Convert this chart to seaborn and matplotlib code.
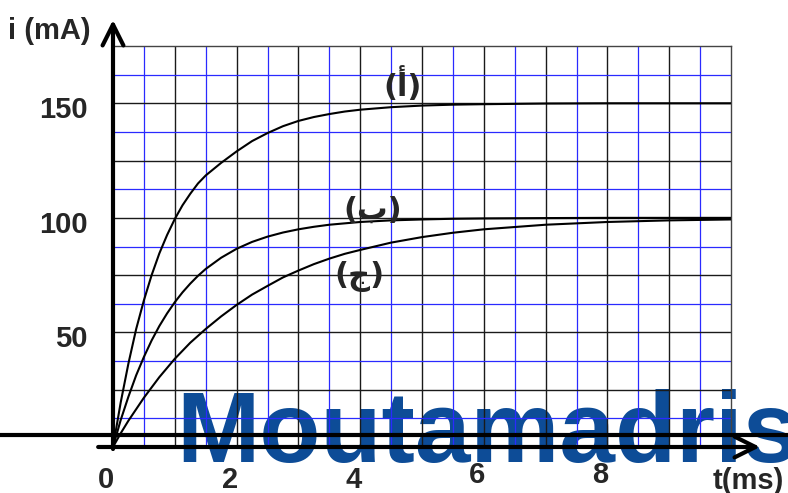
import numpy as np
import pandas as pd
import matplotlib.pyplot as plt
import seaborn as sns
from matplotlib.lines import Line2D
from matplotlib.transforms import ScaledTranslation

# valeurs : t en ms, i en mA
t_ms = [0, 0.125, 0.25, 0.375, 0.5, 0.625, 0.75, 0.875, 1, 1.125, 1.25, 1.375, 1.5,
        1.75, 2, 2.25, 2.5, 2.75, 3, 3.25, 3.5, 3.75, 4, 4.5, 5, 5.5, 6, 7, 8, 9, 10]
i_a = [0, 19.5, 36.5, 51.5, 64, 75, 84.5, 92.5, 99.5, 105.5, 110.5, 115, 118.5,
       124, 129, 133.5, 137, 140, 142.3, 144, 145.3, 146.4, 147.2, 148.3, 149, 149.4, 149.6, 149.9, 150, 150, 150]
i_b = [0, 11.8, 22, 31.3, 39.3, 46.5, 52.8, 58.3, 63.2, 67.5, 71.3, 74.7, 77.7,
       82.6, 86.5, 89.5, 91.8, 93.6, 95, 96.1, 97, 97.6, 98.2, 98.9, 99.3, 99.6, 99.75, 99.9, 100, 100, 100]
i_c = [0, 6, 11.5, 16.5, 21.5, 26, 30.5, 34.5, 38.5, 42, 45.5, 48.5, 51.5,
       57, 62, 66.5, 70.3, 74, 77, 79.8, 82.2, 84.3, 86, 89.2, 91.6, 93.5, 95, 97, 98.2, 98.9, 99.3]
courbes = ['(أ)', '(ب)', '(ج)']
pos_labels = [(4.69, 158), (4.21, 103.5), (3.98, 74.5)]

xticks = [0, 2, 4, 6, 8]
yticks = [50, 100, 150]

df = pd.DataFrame({
    't': t_ms * 3,
    'i': i_a + i_b + i_c,
    'courbe': [courbes[0]] * len(t_ms) + [courbes[1]] * len(t_ms) + [courbes[2]] * len(t_ms),
})

sns.set_style('white')
plt.rcParams['font.family'] = ['Liberation Sans', 'DejaVu Sans']

fig = plt.figure(figsize=(7.88, 4.93), dpi=100)
fig.patch.set_facecolor('white')
ax = fig.add_axes([113 / 788, 46 / 493, 618 / 788, 401 / 493])
ax.patch.set_visible(False)

# filigrane
fig.text(176 / 788, (493 - 462) / 493, 'Moutamadris', fontsize=72, fontweight='bold',
         color='#0d4c97', va='baseline', ha='left', zorder=-1)

# quadrillage
for x in np.arange(0.5, 10, 1):
    ax.axvline(x, color='#2a2aff', lw=0.9, zorder=1)
for x in np.arange(1, 10, 1):
    ax.axvline(x, color='#1a1a1a', lw=1, zorder=1)
for y in np.arange(12.5, 175, 25):
    ax.axhline(y, color='#2a2aff', lw=0.9, zorder=1)
for y in np.arange(25, 175, 25):
    ax.axhline(y, color='#1a1a1a', lw=1, zorder=1)

sns.lineplot(data=df, x='t', y='i', hue='courbe', palette=['black'] * 3,
             legend=False, linewidth=1.5, ax=ax, zorder=3)

for name, (x, y) in zip(courbes, pos_labels):
    ax.text(x, y, name, fontsize=22, fontweight='bold', family=['DejaVu Sans'],
            ha='center', va='center', zorder=4)

ax.set_xlim(0, 10)
ax.set_ylim(0, 175)
ax.set_xlabel('')
ax.set_ylabel('')

for s in ['top', 'right']:
    ax.spines[s].set_color('#444444')
    ax.spines[s].set_linewidth(1)
for s in ['left', 'bottom']:
    ax.spines[s].set_visible(False)

ax.set_xticks(xticks)
ax.set_xticklabels([str(v) for v in xticks])
ax.set_yticks(yticks)
ax.set_yticklabels([str(v) for v in yticks])
ax.tick_params(axis='x', length=6, width=1.2, pad=8, labelsize=21, color='black')
ax.tick_params(axis='y', length=6, width=1.2, pad=12, labelsize=21, color='black')

for lab in ax.get_xticklabels():
    lab.set_fontweight('bold')
    dy = 5 if lab.get_text() in ('6', '8') else 0
    lab.set_transform(lab.get_transform() + ScaledTranslation(-7 / 100, dy / 100, fig.dpi_scale_trans))
for lab in ax.get_yticklabels():
    lab.set_fontweight('bold')
    lab.set_transform(lab.get_transform() + ScaledTranslation(0, -4 / 100, fig.dpi_scale_trans))

# axes avec flèches
arrow = dict(arrowstyle='->,head_length=0.6,head_width=0.3', lw=3, color='black',
             shrinkA=0, shrinkB=0, mutation_scale=25)
ax.annotate('', xy=(1.047, 0), xytext=(-0.024, 0), xycoords='axes fraction',
            textcoords='axes fraction', arrowprops=arrow, annotation_clip=False, zorder=5)
ax.annotate('', xy=(0, 1.065), xytext=(0, -0.005), xycoords='axes fraction',
            textcoords='axes fraction', arrowprops=arrow, annotation_clip=False, zorder=5)

# trait horizontal au-dessus de l'axe
fig.add_artist(Line2D([0, 1], [(493 - 435) / 493] * 2, color='black', lw=3,
                      transform=fig.transFigure, zorder=2))

fig.text(8 / 788, (493 - 39) / 493, 'i (mA)', fontsize=21, fontweight='bold', va='baseline')
fig.text(713 / 788, (493 - 489) / 493, 't(ms)', fontsize=21, fontweight='bold', va='baseline')

fig.savefig('out.png', dpi=100)
